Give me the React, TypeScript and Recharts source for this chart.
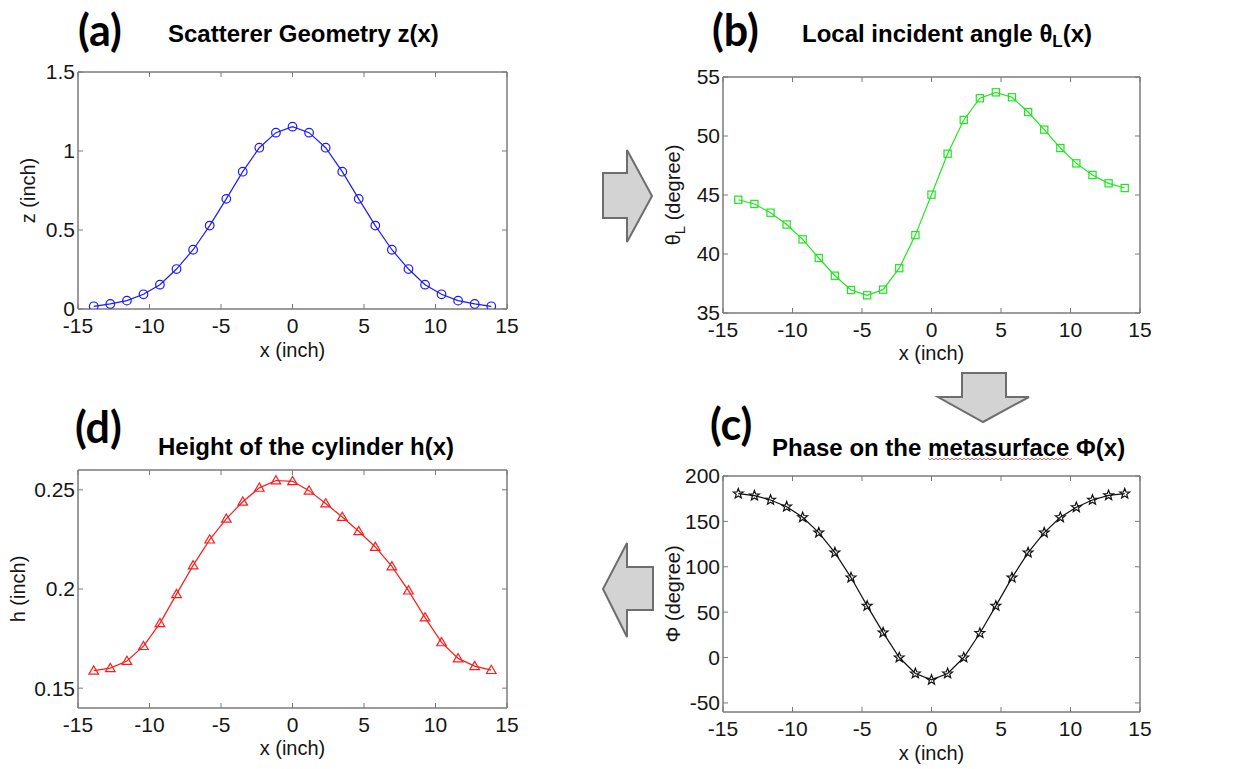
import React from 'react';
import { LineChart, Line, XAxis, YAxis, ReferenceArea } from 'recharts';

// ---- data ----
const xPositions = [-13.9, -12.74, -11.58, -10.42, -9.27, -8.11, -6.95, -5.79, -4.63, -3.48, -2.32, -1.16, 0, 1.16, 2.32, 3.48, 4.63, 5.79, 6.95, 8.11, 9.27, 10.42, 11.58, 12.74, 13.9];
const zValues = [0.017, 0.032, 0.053, 0.093, 0.154, 0.253, 0.375, 0.528, 0.697, 0.869, 1.021, 1.116, 1.154, 1.116, 1.021, 0.869, 0.697, 0.528, 0.375, 0.253, 0.154, 0.093, 0.053, 0.032, 0.017];
const thetaValues = [44.6, 44.24, 43.5, 42.5, 41.24, 39.66, 38.16, 36.95, 36.5, 36.98, 38.8, 41.6, 45.03, 48.5, 51.36, 53.2, 53.7, 53.28, 52.03, 50.54, 48.98, 47.68, 46.7, 45.99, 45.59];
const phiValues = [180.5, 178.3, 173.6, 166.2, 154.5, 137.6, 115.6, 88.1, 56.9, 27.5, 0, -17.6, -24.6, -17.6, 0, 26.8, 56.9, 88, 115.6, 137.6, 154.5, 165.5, 173.6, 178.7, 180.5];
const hValues = [0.1588, 0.1601, 0.1637, 0.1712, 0.1827, 0.1974, 0.2119, 0.2249, 0.2354, 0.244, 0.251, 0.2547, 0.2543, 0.2496, 0.2431, 0.2363, 0.2291, 0.2212, 0.2114, 0.1992, 0.1856, 0.1731, 0.165, 0.1611, 0.1591];

const xTicks = [-15, -10, -5, 0, 5, 10, 15];
const zTicks = [0, 0.5, 1, 1.5];
const thetaTicks = [35, 40, 45, 50, 55];
const phiTicks = [-50, 0, 50, 100, 150, 200];
const hTicks = [0.15, 0.2, 0.25];

const FONT = "'Liberation Sans', Arial, sans-serif";
const AXIS = '#7a7a7a';
const TXT = '#151515';
const TICK_FS = 21;

const build = (ys: number[]) => xPositions.map((x, i) => ({ x, y: ys[i] }));

type Marker = 'circle' | 'square' | 'star' | 'triangle';

function makeDot(kind: Marker, color: string) {
  return (p: any) => {
    const { cx, cy, index } = p;
    if (cx == null || cy == null) return <g key={index} />;
    if (kind === 'circle') {
      return <circle key={index} cx={cx} cy={cy} r={4.3} fill="none" stroke={color} strokeWidth={1.2} />;
    }
    if (kind === 'square') {
      return <rect key={index} x={cx - 3.6} y={cy - 3.6} width={7.2} height={7.2} fill="none" stroke={color} strokeWidth={1.2} />;
    }
    if (kind === 'triangle') {
      const pts = `${cx},${cy - 4.8} ${cx - 4.8},${cy + 3.4} ${cx + 4.8},${cy + 3.4}`;
      return <polygon key={index} points={pts} fill="none" stroke={color} strokeWidth={1.2} />;
    }
    const pts: string[] = [];
    for (let k = 0; k < 10; k++) {
      const r = k % 2 === 0 ? 5.2 : 2.2;
      const a = -Math.PI / 2 + (k * Math.PI) / 5;
      pts.push(`${cx + r * Math.cos(a)},${cy + r * Math.sin(a)}`);
    }
    return <polygon key={index} points={pts.join(' ')} fill="none" stroke={color} strokeWidth={1.2} />;
  };
}

const XTick = (p: any) => (
  <text x={p.x} y={p.y} dy="0.71em" textAnchor="middle" fontSize={TICK_FS} fontFamily={FONT} fill={TXT}>
    {String(p.payload.value)}
  </text>
);
const YTick = (p: any) => (
  <text x={p.x} y={p.y} dy="0.355em" textAnchor="end" fontSize={TICK_FS} fontFamily={FONT} fill={TXT}>
    {String(p.payload.value)}
  </text>
);
const NoTick = () => <g />;

type PanelProps = {
  left: number; top: number; width: number; height: number;
  margin: { top: number; right: number; bottom: number; left: number };
  yWidth: number; xHeight: number;
  ys: number[]; color: string; yDomain: [number, number]; yTicks: number[];
  marker: Marker; yLabel: React.ReactNode; yLabelX: number; xLabelDy: number;
};

function Panel(props: PanelProps) {
  const { left, top, width, height, margin, yWidth, xHeight, ys, color, yDomain, yTicks, marker, yLabel, yLabelX, xLabelDy } = props;
  const data = build(ys);
  const m = { ...margin, top: margin.top - 1, right: margin.right - 1 };
  return (
    <div style={{ position: 'absolute', left, top }}>
      <LineChart width={width} height={height} data={data} margin={m}>
        <XAxis
          xAxisId="b" type="number" dataKey="x" domain={[-15, 15]} ticks={xTicks} interval={0}
          allowDataOverflow orientation="bottom" height={xHeight} tickSize={-5} tickMargin={14}
          stroke={AXIS} tick={XTick}
          label={{
            content: (lp: any) => {
              const vb = lp.viewBox || {};
              return (
                <text x={vb.x + vb.width / 2} y={vb.y + xLabelDy} textAnchor="middle" dominantBaseline="central"
                  fontSize={20} fontFamily={FONT} fill={TXT}>x (inch)</text>
              );
            },
          }}
        />
        <XAxis xAxisId="t" type="number" dataKey="x" domain={[-15, 15]} ticks={xTicks} interval={0}
          allowDataOverflow orientation="top" height={1} tickSize={-5} tick={NoTick} stroke={AXIS} />
        <YAxis
          yAxisId="l" type="number" domain={yDomain} ticks={yTicks} interval={0} allowDataOverflow
          width={yWidth} tickSize={-5} tickMargin={8} stroke={AXIS} tick={YTick}
          label={{
            content: (lp: any) => {
              const vb = lp.viewBox || {};
              const cy = vb.y + vb.height / 2;
              return (
                <text x={yLabelX} y={cy} textAnchor="middle" dominantBaseline="central"
                  transform={`rotate(-90 ${yLabelX} ${cy})`} fontSize={20} fontFamily={FONT} fill={TXT}>
                  {yLabel}
                </text>
              );
            },
          }}
        />
        <YAxis yAxisId="r" type="number" orientation="right" domain={yDomain} ticks={yTicks} interval={0}
          allowDataOverflow width={1} tickSize={-5} tick={NoTick} stroke={AXIS} />
        <ReferenceArea xAxisId="b" yAxisId="l" x1={-15} x2={15} y1={yDomain[0]} y2={yDomain[1]}
          fill="none" fillOpacity={0} stroke={AXIS} strokeWidth={1} ifOverflow="visible" />
        <Line xAxisId="b" yAxisId="l" type="linear" dataKey="y" stroke={color} strokeWidth={1.2}
          dot={makeDot(marker, color)} activeDot={false} isAnimationActive={false} />
      </LineChart>
    </div>
  );
}

function squiggle(x0: number, x1: number, y: number) {
  const pts: string[] = [];
  let k = 0;
  for (let x = x0; x <= x1; x += 2) {
    pts.push(`${x},${y + (k % 2 === 0 ? -1 : 1)}`);
    k++;
  }
  return pts.join(' ');
}

export default function App() {
  const bold = { fontFamily: FONT, fontWeight: 700, fontSize: 24, fill: '#000' } as const;
  const big = { fontFamily: "Lato, 'Open Sans', sans-serif", fontWeight: 700, fontSize: 43, fill: '#000' } as const;
  return (
    <div style={{ position: 'absolute', left: 0, top: 0, width: 1257, height: 769, background: '#fff', overflow: 'hidden' }}>
      <Panel left={0} top={50} width={540} height={320}
        margin={{ top: 22, right: 33, bottom: 0, left: 0 }} yWidth={78} xHeight={61}
        ys={zValues} color="#1a1aff" yDomain={[0, 1.5]} yTicks={zTicks} marker="circle"
        yLabel="z (inch)" yLabelX={28} xLabelDy={41} />
      <Panel left={640} top={50} width={540} height={320}
        margin={{ top: 27, right: 40, bottom: 0, left: 0 }} yWidth={83} xHeight={57}
        ys={thetaValues} color="#1ee61e" yDomain={[35, 55]} yTicks={thetaTicks} marker="square"
        yLabel={<><tspan>θ</tspan><tspan fontSize={15} dy={6}>L</tspan><tspan dy={-6}> (degree)</tspan></>}
        yLabelX={33} xLabelDy={40} />
      <Panel left={0} top={460} width={540} height={309}
        margin={{ top: 10, right: 33, bottom: 0, left: 0 }} yWidth={78} xHeight={61}
        ys={hValues} color="#ff1a1a" yDomain={[0.14, 0.26]} yTicks={hTicks} marker="triangle"
        yLabel="h (inch)" yLabelX={18} xLabelDy={40} />
      <Panel left={640} top={460} width={540} height={309}
        margin={{ top: 16, right: 40, bottom: 0, left: 0 }} yWidth={83} xHeight={57}
        ys={phiValues} color="#111" yDomain={[-60, 200]} yTicks={phiTicks} marker="star"
        yLabel="Φ (degree)" yLabelX={33} xLabelDy={41} />

      <svg width={1257} height={769} style={{ position: 'absolute', left: 0, top: 0, pointerEvents: 'none' }}>
        {/* panel letters */}
        <text x={78} y={46} style={big}>(a)</text>
        <text x={712} y={46} style={big}>(b)</text>
        <text x={710} y={440} style={big}>(c)</text>
        <text x={75} y={443} style={big}>(d)</text>
        {/* titles */}
        <text x={168} y={42} style={bold}>Scatterer Geometry z(x)</text>
        <text x={802} y={42} style={bold}>Local incident angle θ<tspan fontSize={17} dy={5}>L</tspan><tspan dy={-5}>(x)</tspan></text>
        <text x={772} y={456} style={bold}>Phase on the metasurface Φ(x)</text>
        <text x={158} y={455} style={bold}>Height of the cylinder h(x)</text>
        <polyline points={squiggle(928, 1072, 459)} fill="none" stroke="#e03030" strokeWidth={0.8} />
        {/* arrows */}
        <polygon points="603,173 627,173 627,150 652,196 627,242 627,218 603,218" fill="#d3d3d3" stroke="#6e6e6e" strokeWidth={2} />
        <polygon points="962,373 1006,373 1006,397 1029,397 983,422 938,397 962,397" fill="#d3d3d3" stroke="#6e6e6e" strokeWidth={2} />
        <polygon points="653,567 627,567 627,543 603,589 627,637 627,610 653,610" fill="#d3d3d3" stroke="#6e6e6e" strokeWidth={2} />
      </svg>
    </div>
  );
}
